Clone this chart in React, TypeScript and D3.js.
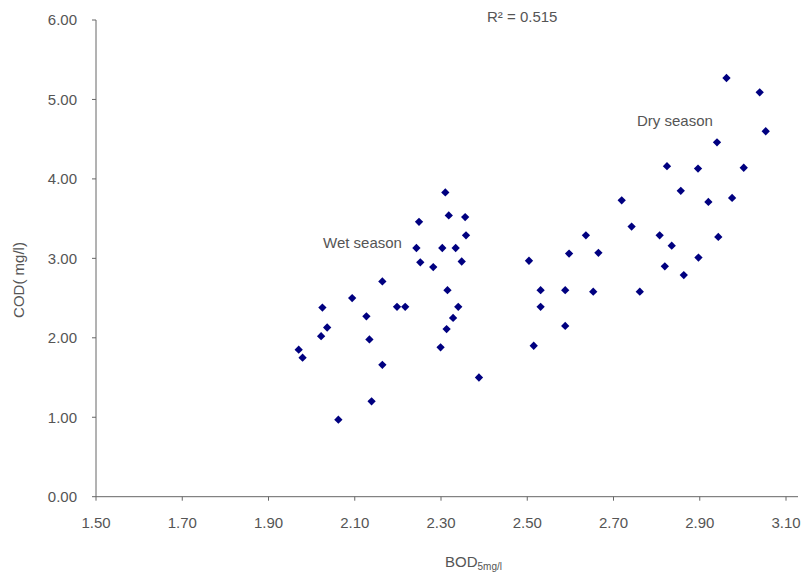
import React from "react";
import * as d3 from "d3";

const wetBOD = [2.31, 2.318, 2.356, 2.249, 2.358, 2.243, 2.303, 2.334, 2.252, 2.282, 2.348, 2.164, 2.315, 2.094, 2.025, 2.198, 2.217, 2.34, 2.127, 2.328, 2.036, 2.313, 2.022, 2.134, 2.299, 1.97, 1.979, 2.164, 2.388, 2.139, 2.062];
const wetCOD = [3.83, 3.54, 3.52, 3.46, 3.29, 3.13, 3.13, 3.13, 2.95, 2.89, 2.96, 2.71, 2.6, 2.5, 2.38, 2.39, 2.39, 2.39, 2.27, 2.25, 2.13, 2.11, 2.02, 1.98, 1.88, 1.85, 1.75, 1.66, 1.5, 1.2, 0.97];

const dryBOD = [2.962, 3.039, 3.053, 2.94, 2.824, 2.896, 3.002, 2.856, 2.92, 2.975, 2.719, 2.742, 2.636, 2.807, 2.835, 2.943, 2.597, 2.665, 2.897, 2.504, 2.819, 2.863, 2.531, 2.588, 2.653, 2.761, 2.531, 2.588, 2.515];
const dryCOD = [5.27, 5.09, 4.6, 4.46, 4.16, 4.13, 4.14, 3.85, 3.71, 3.76, 3.73, 3.4, 3.29, 3.29, 3.16, 3.27, 3.06, 3.07, 3.01, 2.97, 2.9, 2.79, 2.6, 2.6, 2.58, 2.58, 2.39, 2.15, 1.9];

const xTicks = [1.5, 1.7, 1.9, 2.1, 2.3, 2.5, 2.7, 2.9, 3.1];
const yTicks = [0, 1, 2, 3, 4, 5, 6];

const W = 805;
const H = 580;
const FONT = "'Liberation Sans', Arial, sans-serif";
const TEXT = "#555";
const AXIS = "#666";
const MARK = "#000080";

export default function App() {
  const x = d3.scaleLinear().domain([1.5, 3.1]).range([96, 786]);
  const y = d3.scaleLinear().domain([0, 6]).range([496.7, 20]);
  const points = [
    ...wetBOD.map((b, i) => ({ b, c: wetCOD[i] })),
    ...dryBOD.map((b, i) => ({ b, c: dryCOD[i] })),
  ];
  const diamond = d3.symbol().type(d3.symbolDiamond2).size(44)() as string;
  const x0 = x(1.5);
  const yBase = y(0);
  return (
    <svg
      width={W}
      height={H}
      style={{ position: "absolute", left: 0, top: 0, background: "#fff" }}
      fontFamily={FONT}
    >
      <rect width={W} height={H} fill="#fff" />
      {/* y axis */}
      <line x1={x0} x2={x0} y1={y(6)} y2={yBase} stroke={AXIS} strokeWidth={1} />
      {yTicks.map((t) => (
        <g key={"y" + t}>
          <line x1={x0 - 4} x2={x0} y1={y(t)} y2={y(t)} stroke={AXIS} />
          <text x={77} y={y(t)} dy="0.35em" textAnchor="end" fontSize={15} fill={TEXT}>
            {t.toFixed(2)}
          </text>
        </g>
      ))}
      {/* x axis */}
      <line x1={x0} x2={x(3.1) + 12} y1={yBase} y2={yBase} stroke={AXIS} strokeWidth={1} />
      {xTicks.map((t) => (
        <g key={"x" + t}>
          <line x1={x(t)} x2={x(t)} y1={yBase} y2={yBase + 4} stroke={AXIS} />
          <text x={x(t)} y={yBase + 31} textAnchor="middle" fontSize={15} fill={TEXT}>
            {t.toFixed(2)}
          </text>
        </g>
      ))}
      {/* axis titles */}
      <text x={445} y={567} fontSize={15} fill={TEXT}>
        BOD
        <tspan fontSize={10} dy={3}>5mg/l</tspan>
      </text>
      <text
        transform="translate(24,280) rotate(-90)"
        textAnchor="middle"
        fontSize={15}
        fill={TEXT}
      >
        COD( mg/l)
      </text>
      {/* annotations */}
      <text x={487} y={22} fontSize={15} fill={TEXT}>R² = 0.515</text>
      <text x={323} y={248} fontSize={15} fill={TEXT}>Wet season</text>
      <text x={637} y={126} fontSize={15} fill={TEXT}>Dry season</text>
      {/* points */}
      {points.map((p, i) => (
        <path
          key={i}
          d={diamond}
          transform={`translate(${x(p.b)},${y(p.c)})`}
          fill={MARK}
        />
      ))}
    </svg>
  );
}
